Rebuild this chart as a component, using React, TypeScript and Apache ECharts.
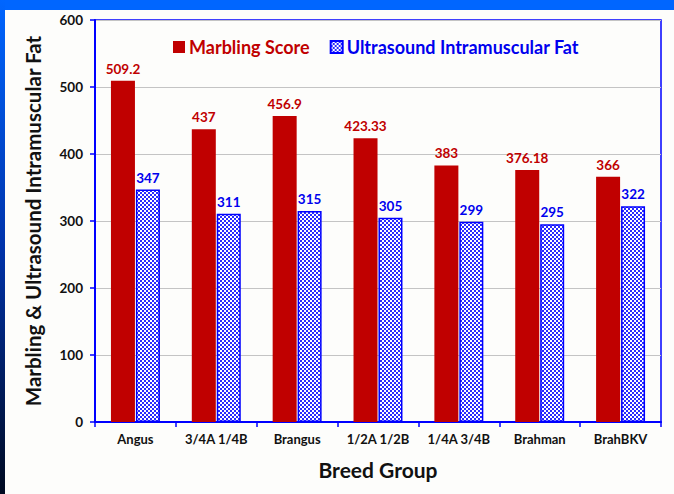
import React, { useEffect, useRef } from "react";
import * as echarts from "echarts";

const categories = ["Angus", "3/4A 1/4B", "Brangus", "1/2A 1/2B", "1/4A 3/4B", "Brahman", "BrahBKV"];
const marblingScore = [509.2, 437, 456.9, 423.33, 383, 376.18, 366];
const ultrasoundFat = [347, 311, 315, 305, 299, 295, 322];
const yTicks = [0, 100, 200, 300, 400, 500, 600];

const FONT = "Lato, 'Open Sans', sans-serif";

function makePattern(): string {
  const c = document.createElement("canvas");
  c.width = 4;
  c.height = 4;
  const ctx = c.getContext("2d")!;
  ctx.fillStyle = "#ffffff";
  ctx.fillRect(0, 0, 4, 4);
  ctx.fillStyle = "#2a2aff";
  ctx.fillRect(0, 0, 2, 2);
  ctx.fillRect(2, 2, 2, 2);
  return c.toDataURL();
}

export default function App() {
  const ref = useRef<HTMLDivElement>(null);
  useEffect(() => {
    if (!ref.current) return;
    const chart = echarts.init(ref.current, undefined, { renderer: "svg" });
    const pattern = { image: makePattern(), repeat: "repeat" };
    chart.setOption({
      animation: false,
      backgroundColor: "#fdfdfb",
      graphic: [
        { type: "rect", left: 0, top: 0, shape: { width: 674, height: 10 }, style: { fill: "#0066ff" }, z: -1 },
        {
          type: "rect",
          left: 0,
          top: 0,
          shape: { width: 5, height: 494 },
          style: {
            fill: new echarts.graphic.LinearGradient(0, 0, 0, 1, [
              { offset: 0, color: "#0066ff" },
              { offset: 0.5, color: "#0033aa" },
              { offset: 1, color: "#000a20" },
            ]),
          },
          z: -1,
        },
      ],
      legend: {
        top: 33,
        left: 168,
        itemWidth: 12,
        itemHeight: 12,
        itemGap: 20,
        icon: "rect",
        data: [
          { name: "Marbling Score", textStyle: { color: "#c00000" } },
          { name: "Ultrasound Intramuscular Fat", textStyle: { color: "#0000ee" } },
        ],
        textStyle: { fontSize: 18, fontWeight: "bold", fontFamily: FONT, padding: [0, 0, 0, -1] },
      },
      grid: {
        left: 95,
        right: 13,
        top: 20,
        bottom: 72,
        show: true,
        borderColor: "#0000ff",
        borderWidth: 1.5,
      },
      xAxis: {
        type: "category",
        data: categories,
        name: "Breed Group",
        nameLocation: "middle",
        nameGap: 37,
        nameTextStyle: { fontSize: 21, fontWeight: "bold", color: "#111", fontFamily: FONT },
        axisLine: { lineStyle: { color: "#0000ff", width: 2 } },
        axisTick: { show: true, alignWithLabel: false, length: 5, lineStyle: { color: "#0000ff", width: 1.5 } },
        axisLabel: { interval: 0, fontSize: 13, fontWeight: "bold", color: "#111", margin: 10, fontFamily: FONT },
      },
      yAxis: {
        type: "value",
        min: yTicks[0],
        max: yTicks[yTicks.length - 1],
        interval: 100,
        name: "Marbling & Ultrasound Intramuscular Fat",
        nameLocation: "middle",
        nameGap: 52,
        nameTextStyle: { fontSize: 20.5, fontWeight: "bold", color: "#111", fontFamily: FONT },
        axisLine: { show: true, lineStyle: { color: "#0000ff", width: 2 } },
        axisTick: { show: true, length: 5, lineStyle: { color: "#0000ff", width: 1.5 } },
        axisLabel: { fontSize: 13.5, fontWeight: "bold", color: "#111", margin: 12, fontFamily: FONT },
        splitLine: { show: true, lineStyle: { color: "#c4c4c4", width: 1 } },
      },
      series: [
        {
          name: "Marbling Score",
          type: "bar",
          data: marblingScore,
          barWidth: 24,
          barGap: "4%",
          itemStyle: { color: "#c00000" },
          label: {
            show: true,
            position: "top",
            distance: 5,
            color: "#c00000",
            fontSize: 13.5,
            fontWeight: "bold",
            fontFamily: FONT,
          },
        },
        {
          name: "Ultrasound Intramuscular Fat",
          type: "bar",
          data: ultrasoundFat,
          barWidth: 24,
          itemStyle: { color: pattern, borderColor: "#0000ff", borderWidth: 1.5 },
          label: {
            show: true,
            position: "top",
            distance: 5,
            color: "#0000ee",
            fontSize: 13.5,
            fontWeight: "bold",
            fontFamily: FONT,
          },
        },
      ],
    });
    return () => chart.dispose();
  }, []);
  return (
    <div
      ref={ref}
      style={{ position: "fixed", left: 0, top: 0, width: 674, height: 494 }}
    />
  );
}
